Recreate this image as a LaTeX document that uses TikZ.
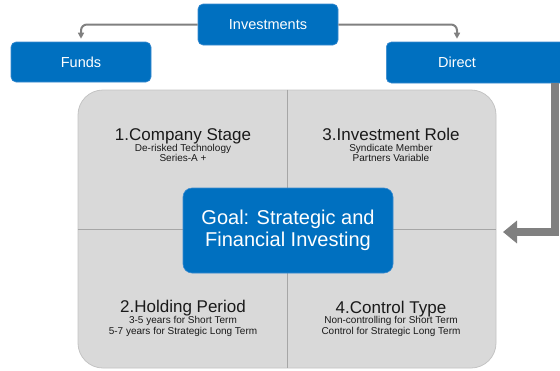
\documentclass[tikz,border=0pt]{standalone}
\usepackage{fontspec}
\setmainfont{Liberation Sans}
\usetikzlibrary{arrows.meta}
\definecolor{bblue}{HTML}{0070C0}
\definecolor{bedge}{HTML}{3A8AD0}
\definecolor{pgray}{HTML}{D9D9D9}
\definecolor{pedge}{HTML}{C4C4C4}
\definecolor{divline}{HTML}{A6A6A6}
\definecolor{conn}{HTML}{808080}
\definecolor{ink}{HTML}{1A1A1A}
\begin{document}
\begin{tikzpicture}[x=1pt,y=-1pt,
  bluebox/.style={fill=bblue,draw=bedge,line width=0.6pt,rounded corners=5pt,text=white,inner sep=0pt},
  toplabel/.style={text=white,font=\fontsize{14.5}{16}\selectfont},
  qtitle/.style={text=ink,anchor=base,font=\fontsize{17}{18}\selectfont,inner sep=0pt},
  qsub/.style={text=ink,anchor=base,font=\fontsize{10}{11}\selectfont,inner sep=0pt},
  thinconn/.style={draw=conn,line width=2pt,rounded corners=6pt,-{Triangle[length=6pt,width=6pt]}},
  bigconn/.style={draw=conn,line width=7.5pt,-{Triangle[length=14pt,width=22pt]}}]
\clip (0,0) rectangle (560,370);
\fill[white] (0,0) rectangle (560,370);

% panel
\node[fill=pgray,draw=pedge,line width=0.8pt,rounded corners=25pt,minimum width=418pt,minimum height=278pt,inner sep=0pt] (panel) at (287,229) {};
\draw[divline,line width=0.8pt] (panel.north) -- (panel.south);
\draw[divline,line width=0.8pt] (panel.west) -- (panel.east);

% top boxes
\node[bluebox,minimum width=140pt,minimum height=41pt,font=\fontsize{14.5}{16}\selectfont] (investments) at (268,24.5) {Investments};
\node[bluebox,minimum width=140pt,minimum height=40pt,font=\fontsize{14.5}{16}\selectfont] (funds) at (81,62) {Funds};
\node[bluebox,minimum width=190pt,minimum height=41pt,anchor=west] (direct) at (386,62.5) {};
\node[toplabel] (directtext) at (457,62.5) {Direct};

% connectors
\draw[thinconn,shorten >=3pt] (investments.west) -| (funds.north);
\draw[thinconn,shorten >=3pt] (investments.east) -| (directtext |- direct.north);
\coordinate (bigx) at (555,0);
\coordinate (tip) at (503,232);
\draw[bigconn] (direct.south -| bigx) |- (tip);

% goal
\node[bluebox,rounded corners=9pt,minimum width=210pt,minimum height=85pt,align=center,font=\fontsize{20}{22}\selectfont] (goal) at (288,230.5) {Goal: Strategic and\\Financial Investing};

% quadrant texts
\node[qtitle] (t1) at (183,140) {1.Company Stage};
\node[qsub] (s1a) at (183,151.5) {De-risked Technology};
\node[qsub] (s1b) at (183,161.5) {Series-A +};
\node[qtitle] (t3) at (391,140) {3.Investment Role};
\node[qsub] (s3a) at (391,151.5) {Syndicate Member};
\node[qsub] (s3b) at (391,161.5) {Partners Variable};
\node[qtitle] (t2) at (183,312) {2.Holding Period};
\node[qsub] (s2a) at (183,323.5) {3-5 years for Short Term};
\node[qsub] (s2b) at (183,334.5) {5-7 years for Strategic Long Term};
\node[qtitle] (t4) at (391,313) {4.Control Type};
\node[qsub] (s4a) at (391,323.5) {Non-controlling for Short Term};
\node[qsub] (s4b) at (391,334.5) {Control for Strategic Long Term};
\end{tikzpicture}
\end{document}
